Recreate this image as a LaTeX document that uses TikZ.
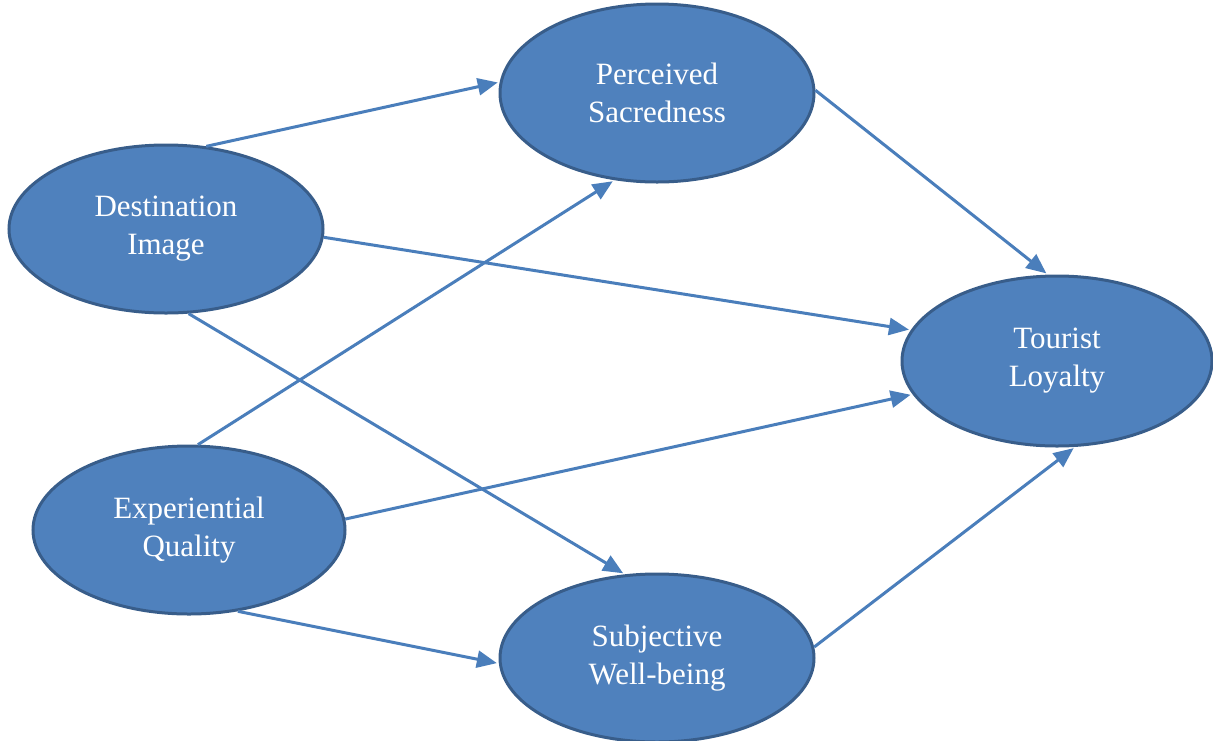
\documentclass[tikz,border=0pt]{standalone}
\usepackage{fontspec}
\setmainfont{Liberation Serif}
\usetikzlibrary{shapes.geometric,arrows.meta}
\definecolor{fillblue}{HTML}{4F81BD}
\definecolor{edgeblue}{HTML}{385D8A}
\definecolor{arrowblue}{HTML}{4A7EBB}
\tikzset{
  construct/.style={ellipse, draw=edgeblue, fill=fillblue, line width=3pt,
    minimum width=314pt, minimum height=168pt, inner sep=0pt,
    text=white, align=center, font=\fontsize{31}{38}\selectfont},
  path/.style={draw=arrowblue, line width=3pt,
    -{Triangle[length=20pt,width=17pt]}, shorten >=2pt}
}
\begin{document}
\begin{tikzpicture}[x=1pt,y=-1pt]
\useasboundingbox (0,0) rectangle (1213,740);
\node[construct] (di) at (166,229) {Destination\\Image};
\node[construct, minimum height=178pt] (ps) at (657,93) {Perceived\\Sacredness};
\node[construct, minimum width=310pt, minimum height=170pt] (tl) at (1057,361) {Tourist\\Loyalty};
\node[construct, minimum width=312pt] (eq) at (189,530) {Experiential\\Quality};
\node[construct] (sw) at (657,658) {Subjective\\Well-being};
\draw[path] (di.64) -- (ps.176);
\draw[path] (di.-3) -- (tl.168);
\draw[path] (di.-75) -- (sw.111);
\draw[path] (eq.84) -- (ps.-116);
\draw[path] (eq.4) -- (tl.193);
\draw[path] (eq.-59) -- (sw.182);
\draw[path] (ps.1) -- (tl.96);
\draw[path] (sw.4) -- (tl.-78);
\end{tikzpicture}
\end{document}
